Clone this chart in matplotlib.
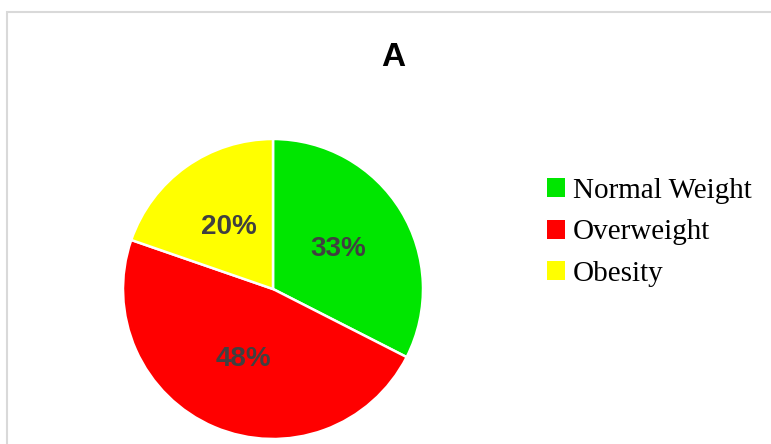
import numpy as np
import matplotlib.pyplot as plt
from matplotlib.patches import Rectangle, Patch

# data
categories = ['Normal Weight', 'Overweight', 'Obesity']
shares = [32.5, 47.8, 19.7]          # percent of sample
pct_labels = ['33%', '48%', '20%']
colors = ['#00e600', '#ff0000', '#ffff00']

W, H = 771, 444
fig = plt.figure(figsize=(W / 100, H / 100), dpi=100)

# chart border (cut off on the right and bottom in the original)
fig.patches.append(Rectangle((6.5 / W, -0.2), 1.2, 1.2 - 12 / H,
                             transform=fig.transFigure, fill=False,
                             edgecolor='#d9d9d9', linewidth=1.5))

# pie axes, centre (273, 289) px, radius 150 px
cx, cy, r = 273, H - 289, 150
ax = fig.add_axes([(cx - r) / W, (cy - r) / H, 2 * r / W, 2 * r / H])
wedges, _ = ax.pie(shares, colors=colors, startangle=90, counterclock=False,
                   radius=1.0, wedgeprops=dict(edgecolor='white', linewidth=1.8))
ax.set_xlim(-1, 1)
ax.set_ylim(-1, 1)
ax.set_aspect('equal')
ax.axis('off')

# percentage labels at the middle of each wedge
for w, lab in zip(wedges, pct_labels):
    ang = np.deg2rad((w.theta1 + w.theta2) / 2)
    ax.text(0.51 * np.cos(ang), 0.51 * np.sin(ang), lab, ha='center', va='center',
            fontsize=20, fontweight='bold', color='#404040', family='Liberation Sans')

fig.text(393 / W, 1 - 58 / H, 'A', ha='center', va='center', fontsize=24,
         fontweight='bold', family='Liberation Sans')

handles = [Patch(facecolor=c, edgecolor='none') for c in colors]
fig.legend(handles, categories, loc='upper left', bbox_to_anchor=(547 / W, 1 - 178 / H),
           frameon=False, borderpad=0, borderaxespad=0, handlelength=0.62,
           handleheight=0.62, handletextpad=0.28, labelspacing=0.53,
           prop={'family': 'Liberation Serif', 'size': 21})

fig.savefig('out.png', dpi=100)
